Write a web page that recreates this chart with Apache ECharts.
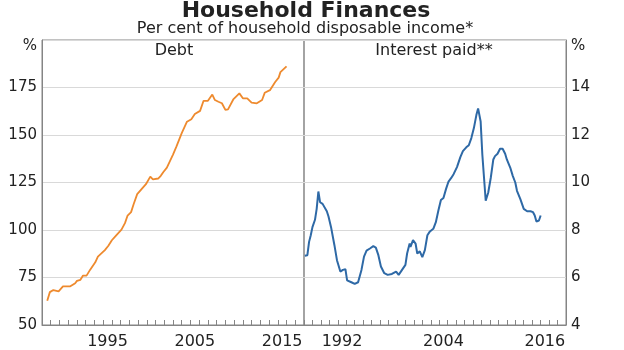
<!DOCTYPE html>
<html>
<head>
<meta charset="utf-8">
<script src="https://cdn.jsdelivr.net/npm/echarts@6/dist/echarts.min.js"></script>
<style>
html,body{margin:0;padding:0;background:#fff;}
#chart{width:624px;height:350px;}
</style>
</head>
<body>
<div id="chart"></div>
<script>
// ---- Data ----
const debtYears = [1988.6,1988.9,1989.3,1989.9,1990.4,1990.6,1991.2,1991.8,1992.0,1992.4,1992.7,1993.1,1993.5,1994.1,1994.4,1994.8,1995.2,1995.6,1996.0,1996.5,1997.1,1997.5,1997.8,1998.2,1998.5,1998.9,1999.4,1999.9,2000.4,2000.7,2001.3,2001.6,2001.9,2002.3,2003.0,2003.4,2004.0,2004.6,2005.1,2005.5,2006.1,2006.5,2007.0,2007.5,2007.8,2008.2,2008.6,2009.0,2009.3,2009.9,2010.6,2011.0,2011.5,2012.0,2012.6,2013.2,2013.5,2014.1,2014.7,2015.1,2015.3,2016.0];
const debtValues = [62.8,67.3,68.4,67.7,70.3,69.4,70.3,72.0,73.2,73.8,76.0,76.0,79.0,83.0,86.0,87.7,89.4,91.7,94.6,97.2,100.2,103.6,107.6,109.4,113.7,118.9,121.5,124.1,128.1,126.7,127.1,128.5,130.5,132.8,139.7,144.0,151.0,157.0,158.3,161.0,162.7,168.0,168.0,171.3,168.4,167.5,166.7,163.2,163.5,168.7,171.9,169.3,169.3,167.0,166.7,168.4,172.2,173.6,177.9,180.2,183.1,186.1];

const interestYears = [1988.1,1988.4,1988.6,1988.8,1989.0,1989.3,1989.5,1989.7,1989.9,1990.2,1990.4,1990.7,1990.9,1991.2,1991.4,1991.6,1991.9,1992.3,1992.6,1992.9,1993.1,1993.6,1994.0,1994.4,1994.8,1995.1,1995.4,1995.8,1996.2,1996.5,1996.8,1997.1,1997.5,1997.9,1998.4,1998.9,1999.2,1999.6,2000.0,2000.2,2000.5,2000.6,2000.9,2001.2,2001.4,2001.7,2002.0,2002.3,2002.6,2002.9,2003.3,2003.6,2003.9,2004.2,2004.5,2004.8,2005.1,2005.4,2005.7,2006.1,2006.3,2006.5,2006.8,2007.2,2007.5,2007.8,2008.1,2008.4,2008.6,2008.8,2008.9,2009.1,2009.3,2009.5,2009.8,2010.1,2010.4,2010.6,2010.9,2011.2,2011.5,2011.8,2012.0,2012.4,2012.7,2013.0,2013.2,2013.6,2014.0,2014.4,2014.8,2015.1,2015.3,2015.5,2015.8,2016.0];
const interestValues = [6.92,6.94,7.5,7.78,8.12,8.43,8.89,9.62,9.17,9.1,9.05,8.79,8.57,8.12,8.05,7.36,6.73,6.25,6.32,6.35,5.88,5.8,5.73,5.8,6.32,6.88,7.13,7.22,7.32,7.26,6.94,6.46,6.18,6.11,6.15,6.25,6.11,6.32,6.53,7.01,7.43,7.29,7.57,7.43,7.01,7.1,6.86,7.15,7.78,7.94,8.05,8.33,8.82,9.26,9.35,9.72,10.04,10.18,10.35,10.65,10.69,11.07,11.32,11.48,11.57,11.87,12.29,12.85,13.12,13.15,12.57,11.18,10.2,9.23,9.58,10.2,10.97,11.11,11.21,11.42,11.42,11.21,10.97,10.63,10.28,10.0,9.65,9.3,8.89,8.79,8.79,8.75,8.61,8.36,8.4,8.61];

// Tick categories (one band per year) and which get labels
const leftYearBands = ['1988','1989','1990','1991','1992','1993','1994','1995','1996','1997','1998','1999','2000','2001','2002','2003','2004','2005','2006','2007','2008','2009','2010','2011','2012','2013','2014','2015','2016','2017'];
const rightYearBands = ['1988','1989','1990','1991','1992','1993','1994','1995','1996','1997','1998','1999','2000','2001','2002','2003','2004','2005','2006','2007','2008','2009','2010','2011','2012','2013','2014','2015','2016','2017','2018'];
const leftTickLabels = ['1995','2005','2015'];
const rightTickLabels = ['1992','2004','2016'];

const titleText = 'Household Finances';
const subtitleText = 'Per cent of household disposable income*';
const panelTitles = ['Debt', 'Interest paid**'];

// ---- Chart ----
const FONT = 'DejaVu Sans';
const AXIS_COLOR = '#858585';
const GRID_COLOR = '#d9d9d9';
const TEXT_COLOR = '#222';

const chart = echarts.init(document.getElementById('chart'), null, {renderer: 'canvas'});

function pairs(xs, ys) { return xs.map((x, i) => [x, ys[i]]); }

function yLabel(topVal) {
  return {
    fontFamily: FONT, fontSize: 15, color: TEXT_COLOR, margin: 5,
    formatter: function (v) { return v === topVal ? '{p|%}' : String(v); },
    rich: { p: { fontFamily: FONT, fontSize: 15, color: TEXT_COLOR, padding: [12, 0, 0, 0] } }
  };
}

const option = {
  animation: false,
  backgroundColor: '#fff',
  title: [
    { text: titleText, left: 306, top: 0, textAlign: 'center', padding: 0,
      textStyle: { fontFamily: FONT, fontWeight: 'bold', fontSize: 22, color: TEXT_COLOR } },
    { text: subtitleText, left: 305, top: 21, textAlign: 'center', padding: 0,
      textStyle: { fontFamily: FONT, fontWeight: 'normal', fontSize: 16, color: TEXT_COLOR } },
    { text: panelTitles[0], left: 174, top: 43, textAlign: 'center', padding: 0,
      textStyle: { fontFamily: FONT, fontWeight: 'normal', fontSize: 16, color: TEXT_COLOR } },
    { text: panelTitles[1], left: 434, top: 43, textAlign: 'center', padding: 0,
      textStyle: { fontFamily: FONT, fontWeight: 'normal', fontSize: 16, color: TEXT_COLOR } }
  ],
  grid: [
    { left: 42, top: 40, width: 262, height: 287, show: true, borderColor: AXIS_COLOR, borderWidth: 1, backgroundColor: 'transparent', containLabel: false },
    { left: 304, top: 40, width: 262, height: 287, show: true, borderColor: AXIS_COLOR, borderWidth: 1, backgroundColor: 'transparent', containLabel: false }
  ],
  xAxis: [
    { type: 'value', gridIndex: 0, position: 'bottom', min: 1988, max: 2018, interval: 1,
      axisLine: { show: true, lineStyle: { color: AXIS_COLOR } },
      axisTick: { show: true, inside: true, length: 5, lineStyle: { color: AXIS_COLOR } },
      axisLabel: { show: false }, splitLine: { show: false } },
    { type: 'category', gridIndex: 0, position: 'bottom', data: leftYearBands, boundaryGap: true,
      axisLine: { show: false }, axisTick: { show: false }, splitLine: { show: false },
      axisLabel: { fontFamily: FONT, fontSize: 16, color: TEXT_COLOR, margin: 9,
        interval: function (i, v) { return leftTickLabels.indexOf(v) >= 0; } } },
    { type: 'value', gridIndex: 1, position: 'bottom', min: 1988, max: 2019, interval: 1,
      axisLine: { show: true, lineStyle: { color: AXIS_COLOR } },
      axisTick: { show: true, inside: true, length: 5, lineStyle: { color: AXIS_COLOR } },
      axisLabel: { show: false }, splitLine: { show: false } },
    { type: 'category', gridIndex: 1, position: 'bottom', data: rightYearBands, boundaryGap: true,
      axisLine: { show: false }, axisTick: { show: false }, splitLine: { show: false },
      axisLabel: { fontFamily: FONT, fontSize: 16, color: TEXT_COLOR, margin: 9,
        interval: function (i, v) { return rightTickLabels.indexOf(v) >= 0; } } }
  ],
  yAxis: [
    { type: 'value', gridIndex: 0, position: 'left', min: 50, max: 200, interval: 25,
      axisLine: { show: true, lineStyle: { color: AXIS_COLOR } }, axisTick: { show: false },
      splitLine: { show: true, lineStyle: { color: GRID_COLOR, width: 1 } },
      axisLabel: yLabel(200) },
    { type: 'value', gridIndex: 1, position: 'right', min: 4, max: 16, interval: 2,
      axisLine: { show: true, lineStyle: { color: AXIS_COLOR } }, axisTick: { show: false },
      splitLine: { show: true, lineStyle: { color: GRID_COLOR, width: 1 } },
      axisLabel: yLabel(16) }
  ],
  series: [
    { name: 'Debt', type: 'line', xAxisIndex: 0, yAxisIndex: 0, data: pairs(debtYears, debtValues),
      showSymbol: false, symbol: 'none', lineStyle: { color: '#EE8A2E', width: 1.8 }, z: 5 },
    { name: 'Interest paid', type: 'line', xAxisIndex: 2, yAxisIndex: 1, data: pairs(interestYears, interestValues),
      showSymbol: false, symbol: 'none', lineStyle: { color: '#2E69A6', width: 2 }, z: 5 }
  ]
};

chart.setOption(option);
</script>
</body>
</html>
